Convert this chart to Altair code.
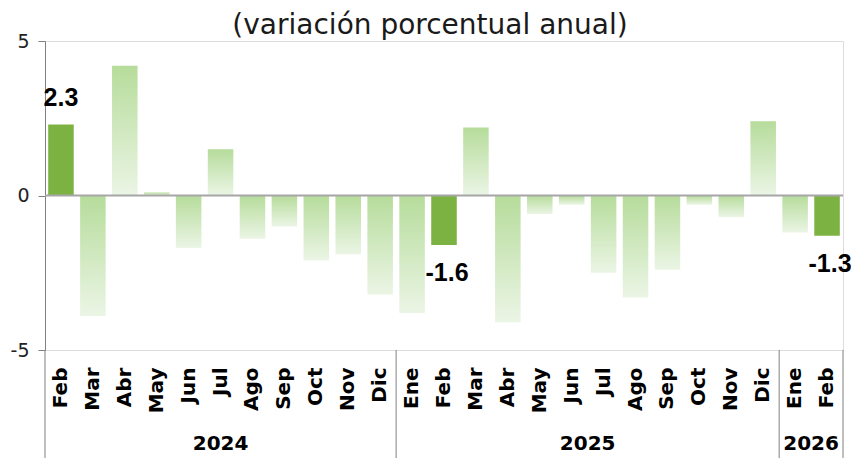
import altair as alt
import pandas as pd

months = ["Feb", "Mar", "Abr", "May", "Jun", "Jul", "Ago", "Sep", "Oct", "Nov", "Dic",
          "Ene", "Feb", "Mar", "Abr", "May", "Jun", "Jul", "Ago", "Sep", "Oct", "Nov", "Dic",
          "Ene", "Feb"]
years = [2024] * 11 + [2025] * 12 + [2026] * 2
values = [2.3, -3.9, 4.2, 0.1, -1.7, 1.5, -1.4, -1.0, -2.1, -1.9, -3.2,
          -3.8, -1.6, 2.2, -4.1, -0.6, -0.3, -2.5, -3.3, -2.4, -0.3, -0.7, 2.4,
          -1.2, -1.3]
highlight = [1, 0, 0, 0, 0, 0, 0, 0, 0, 0, 0,
             0, 1, 0, 0, 0, 0, 0, 0, 0, 0, 0, 0,
             0, 1]

year_labels = ["2024", "2025", "2026"]
year_start = [0, 11, 23]
year_end = [11, 23, 25]
boundaries = [0, 11, 23, 25]

W, H = 798, 309
PAD = {"left": 37, "top": 33, "right": 8, "bottom": 108}

keys = [f"{m}-{y}" for m, y in zip(months, years)]
df = pd.DataFrame({
    "key": keys, "month": months, "year": years, "value": values, "hl": highlight,
    "label": [f"{v:.1f}" if h else "" for v, h in zip(values, highlight)],
})

grad = {
    "gradient": "linear", "x1": 0, "y1": 0, "x2": 0, "y2": 1,
    "stops": [{"offset": 0, "color": "#b6dc9b"}, {"offset": 1, "color": "#ebf5e5"}],
}

yscale = alt.Scale(domain=[-5, 5], nice=False, zero=False)

base = alt.Chart(df).encode(
    x=alt.X("key:N", sort=keys, title=None,
            scale=alt.Scale(paddingInner=0.2, paddingOuter=0.1),
            axis=alt.Axis(labelExpr="split(datum.value, '-')[0]", labelAngle=270,
                          domain=False, ticks=False, labelPadding=17,
                          labelFont="DejaVu Sans", labelFontWeight="bold",
                          labelFontSize=20, labelColor="#000000")),
)

yenc = alt.Y("value:Q", scale=yscale, title=None,
             axis=alt.Axis(values=[-5, 0, 5], grid=False, domainColor="#808080",
                           tickColor="#808080", tickSize=7, labelPadding=9,
                           labelExpr="'' + datum.value",
                           labelFont="DejaVu Sans", labelFontSize=19,
                           labelColor="#222222", domainWidth=1))

grad_bars = base.transform_filter("datum.hl == 0").mark_bar(fill=grad).encode(y=yenc)
hl_bars = base.transform_filter("datum.hl == 1").mark_bar(fill="#7cb242").encode(y=yenc)

zero_rule = alt.Chart(pd.DataFrame({"z": [0]})).mark_rule(
    color="#a6a6a6", strokeWidth=2).encode(y=alt.Y("z:Q", scale=yscale))

lab_pos = base.transform_filter("datum.hl == 1 && datum.value > 0").mark_text(
    font="Liberation Sans", fontWeight="bold", fontSize=25, baseline="bottom",
    dy=-13, color="#000000").encode(y=alt.Y("value:Q", scale=yscale), text="label:N")
lab_neg = base.transform_filter("datum.hl == 1 && datum.value < 0").mark_text(
    font="Liberation Sans", fontWeight="bold", fontSize=25, baseline="top",
    dy=16, dx=3, color="#000000").encode(y=alt.Y("value:Q", scale=yscale), text="label:N")

bars_group = alt.layer(grad_bars, hl_bars, zero_rule, lab_pos, lab_neg)

xq = alt.Scale(domain=[0, 25], nice=False, zero=False)
sep_df = pd.DataFrame({"b": boundaries})
seps = alt.Chart(sep_df).mark_rule(color="#808080", strokeWidth=1).encode(
    x=alt.X("b:Q", scale=xq, axis=None),
    y=alt.value(H), y2=alt.value(H + PAD["bottom"]))

yr_df = pd.DataFrame({"year": year_labels, "start": year_start, "end": year_end})
yrs = alt.Chart(yr_df).transform_calculate(
    mid="(datum.start + datum.end) / 2").mark_text(
    font="DejaVu Sans", fontWeight="bold", fontSize=20, baseline="middle",
    color="#000000").encode(
    x=alt.X("mid:Q", scale=xq, axis=None), y=alt.value(H + 94), text="year:N")

ann_group = alt.layer(seps, yrs)

chart = alt.layer(bars_group, ann_group).resolve_scale(x="independent").properties(
    width=W, height=H,
    title=alt.TitleParams("(variación porcentual anual)", font="DejaVu Sans",
                          fontSize=28, fontWeight="normal", color="#1a1a1a",
                          anchor="middle", dx=-14, dy=12, offset=4),
    autosize=alt.AutoSizeParams(type="none"),
    padding=PAD,
).configure_view(stroke=None).configure(background="#ffffff")

chart.save("out.html", embed_options={"renderer": "svg", "actions": False})
